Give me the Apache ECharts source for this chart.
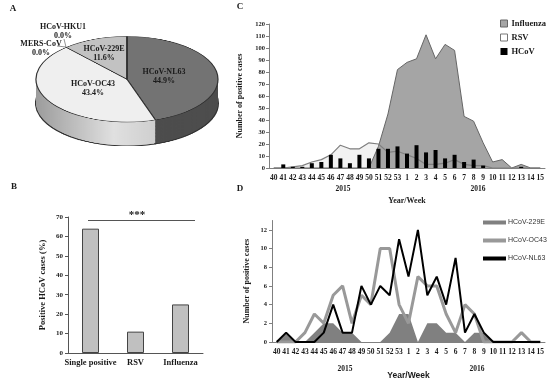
<!DOCTYPE html>
<html><head><meta charset="utf-8">
<script src="https://cdn.jsdelivr.net/npm/echarts@6/dist/echarts.min.js"></script>
<style>
html,body{margin:0;padding:0;background:#fff;}
#wrap{position:relative;width:550px;height:381px;overflow:hidden;background:#fff;}
#pie{position:absolute;left:35px;top:36px;width:184px;height:235px;transform:scaleY(0.47);transform-origin:0 0;z-index:1;}
#main{position:absolute;left:0;top:0;width:550px;height:381px;z-index:2;}
</style></head><body><div id="wrap"><div id="pie"></div><div id="main"></div></div>
<script>
// ---- Data ----
const pieNames = ['HCoV-NL63', 'HCoV-OC43', 'HCoV-229E', 'MERS-CoV', 'HCoV-HKU1'];
const pieValues = [44.9, 43.4, 11.6, 0.0, 0.0];

const coinfCategories = ['Single positive', 'RSV', 'Influenza'];
const coinfValues = [64, 11, 25];

const weeks = ['40','41','42','43','44','45','46','47','48','49','50','51','52','53',
               '1','2','3','4','5','6','7','8','9','10','11','12','13','14','15'];
const influenza = [0,0,0,0,0,0,0,0,0,0,0,18,45,82, 88,91,111,91,103,98,43,39,21,5,7,0,3,0,0];
const rsv       = [0,0,1,2,5,7,11,19,16,16,21,20,13,14, 11,8,3,3,4,7,3,2,2,0,0,0,0,0,0];
const hcov      = [0,3,1,1,4,5,11,8,4,11,8,16,16,18, 12,19,13,15,8,11,5,7,2,0,0,0,1,0,0];

const hcov229E = [0,1,0,0,1,2,2,1,1,0,0,0,1,3, 3,0,2,2,1,1,0,1,1,0,0,0,0,0,0];
const hcovOC43 = [0,0,0,1,3,2,5,6,2,5,4,10,10,4, 2,7,6,6,3,1,4,3,0,0,0,0,1,0,0];
const hcovNL63 = [0,1,0,0,0,1,4,1,1,6,4,6,5,11, 7,12,5,7,4,9,1,3,1,0,0,0,0,0,0];

// ---- Panel A: pseudo-3D pie (flattened) ----
const pieChart = echarts.init(document.getElementById('pie'), null, {width:184, height:235});
const topColors = ['#737373', '#efefef', '#c2c2c2', '#999999', '#999999'];
const oc43Side = {type:'linear', x:0, y:0, x2:1, y2:0, colorStops:[
  {offset:0, color:'#9c9c9c'}, {offset:0.65, color:'#e0e0e0'}, {offset:1, color:'#cfcfcf'}]};
const sideColors = ['#4d4d4d', oc43Side, '#8a8a8a', '#777777', '#777777'];
const R = 91, depth = 51;
const pieSeries = [];
for (let off = depth; off >= 1; off -= 1.5) {
  pieSeries.push({
    type:'pie', radius:R, center:[92, 92 + off], startAngle:90, clockwise:true,
    silent:true, animation:false, label:{show:false}, labelLine:{show:false},
    itemStyle:{borderWidth: off === depth ? 2 : 0, borderColor:'#333'},
    data: pieNames.map((n, i) => ({name:n, value:pieValues[i], itemStyle:{color:sideColors[i]}}))
  });
}
pieSeries.push({
  type:'pie', radius:R, center:[92, 92], startAngle:90, clockwise:true,
  silent:true, animation:false, label:{show:false}, labelLine:{show:false},
  itemStyle:{borderWidth:1.2, borderColor:'#333'},
  data: pieNames.map((n, i) => ({name:n, value:pieValues[i], itemStyle:{color:topColors[i]}}))
});
pieChart.setOption({animation:false, series:pieSeries});

// ---- Main chart (panels B, C, D + labels) ----
const chart = echarts.init(document.getElementById('main'), null, {width:550, height:381});
const serif = 'Liberation Serif';
const sans = 'Liberation Sans';
const pieLabelPos = [[164, 76], [93, 88], [104, 53], [41, 48], [63, 31]];
const txt = (x, y, text, font, opts) => Object.assign({
  type:'text', x:x, y:y, silent:true,
  style:{text:text, font:font, fill:'#1a1a1a', align:'center', verticalAlign:'middle',
         textAlign:'center', textVerticalAlign:'middle', lineHeight:9}
}, opts || {});

const graphic = [
  txt(13, 9, 'A', 'bold 9px ' + serif),
  txt(14, 187, 'B', 'bold 9px ' + serif),
  txt(240, 7, 'C', 'bold 9px ' + serif),
  txt(240, 189, 'D', 'bold 9px ' + serif),
  // pie leader lines
  {type:'line', silent:true, shape:{x1:64, y1:39, x2:66, y2:47}, style:{stroke:'#777', lineWidth:0.8}},
  {type:'line', silent:true, shape:{x1:57, y1:46, x2:66, y2:47}, style:{stroke:'#777', lineWidth:0.8}},
  // significance bar in B
  {type:'line', silent:true, shape:{x1:88, y1:220.5, x2:195, y2:220.5}, style:{stroke:'#555', lineWidth:1}},
  txt(137, 215, '***', 'bold 11px ' + serif),
  // year labels
  txt(343, 189, '2015', 'bold 7.5px ' + serif),
  txt(478, 189, '2016', 'bold 7.5px ' + serif),
  txt(345, 369, '2015', 'bold 7.5px ' + serif),
  txt(477, 369, '2016', 'bold 7.5px ' + serif),
];
pieNames.forEach((n, i) => {
  graphic.push(txt(pieLabelPos[i][0], pieLabelPos[i][1], n + '\n' + pieValues[i].toFixed(1) + '%',
    'bold 8px ' + serif));
});

const axisLbl = (size) => ({fontFamily:serif, fontWeight:'bold', fontSize:size, color:'#1a1a1a'});

chart.setOption({
  animation:false,
  backgroundColor:'transparent',
  textStyle:{fontFamily:serif},
  graphic:graphic,
  legend:[
    {left:500, top:19, orient:'vertical', padding:0, itemGap:5, itemWidth:7, itemHeight:7, selectedMode:false,
     textStyle:{fontFamily:serif, fontWeight:'bold', fontSize:8.5, color:'#1a1a1a', lineHeight:9, padding:[0,0,0,-1]},
     data:[
       {name:'Influenza', icon:'rect', itemStyle:{color:'#a5a5a5', borderColor:'#666', borderWidth:1}},
       {name:'RSV', icon:'rect', itemStyle:{color:'#ffffff', borderColor:'#777', borderWidth:1}},
       {name:'HCoV', icon:'rect', itemStyle:{color:'#000000', borderWidth:0}}
     ]},
    {left:483, top:219, orient:'vertical', padding:0, itemGap:11, itemWidth:23, itemHeight:4, selectedMode:false,
     textStyle:{fontFamily:sans, fontSize:7, color:'#333', lineHeight:7, padding:[0,0,0,-3]},
     data:[
       {name:'HCoV-229E', icon:'rect', itemStyle:{color:'#808080'}},
       {name:'HCoV-OC43', icon:'rect', itemStyle:{color:'#999999'}},
       {name:'HCoV-NL63', icon:'rect', itemStyle:{color:'#000000'}}
     ]}
  ],
  grid:[
    {left:68, right:347, top:217, bottom:28},
    {left:269, right:5, top:24, bottom:213},
    {left:272, right:5, top:220.5, bottom:37}
  ],
  xAxis:[
    {type:'category', gridIndex:0, data:coinfCategories,
     axisLine:{lineStyle:{color:'#555'}}, axisTick:{length:3, lineStyle:{color:'#555'}},
     axisLabel:Object.assign(axisLbl(8.5), {margin:5, interval:0})},
    {type:'category', gridIndex:1, data:weeks, boundaryGap:true,
     name:'Year/Week', nameLocation:'middle', nameGap:29,
     nameTextStyle:{fontFamily:serif, fontWeight:'bold', fontSize:8, color:'#1a1a1a'},
     axisLine:{lineStyle:{color:'#808080'}}, axisTick:{show:false},
     axisLabel:Object.assign(axisLbl(7.5), {margin:6, interval:0})},
    {type:'category', gridIndex:2, data:weeks, boundaryGap:true,
     name:'Year/Week', nameLocation:'middle', nameGap:29,
     nameTextStyle:{fontFamily:sans, fontWeight:'bold', fontSize:8.5, color:'#1a1a1a'},
     axisLine:{lineStyle:{color:'#808080'}}, axisTick:{show:false},
     axisLabel:Object.assign(axisLbl(7.5), {margin:6, interval:0})}
  ],
  yAxis:[
    {type:'value', gridIndex:0, min:0, max:70, interval:10,
     name:'Positive HCoV cases (%)', nameLocation:'middle', nameGap:21, nameRotate:90,
     nameTextStyle:{fontFamily:serif, fontWeight:'bold', fontSize:8.5, color:'#1a1a1a'},
     axisLine:{show:true, lineStyle:{color:'#555'}}, axisTick:{show:true, length:3, lineStyle:{color:'#555'}},
     splitLine:{show:false}, axisLabel:Object.assign(axisLbl(7), {margin:5})},
    {type:'value', gridIndex:1, min:0, max:120, interval:10,
     name:'Number of positive cases', nameLocation:'middle', nameGap:20, nameRotate:90,
     nameTextStyle:{fontFamily:serif, fontWeight:'bold', fontSize:8, color:'#1a1a1a'},
     axisLine:{show:true, lineStyle:{color:'#808080'}}, axisTick:{show:true, length:3, lineStyle:{color:'#808080'}},
     splitLine:{show:false}, axisLabel:Object.assign(axisLbl(6.5), {margin:4})},
    {type:'value', gridIndex:2, min:0, max:13, interval:2,
     name:'Number of positive cases', nameLocation:'middle', nameGap:21, nameRotate:90,
     nameTextStyle:{fontFamily:serif, fontWeight:'bold', fontSize:8, color:'#1a1a1a'},
     axisLine:{show:true, lineStyle:{color:'#808080'}}, axisTick:{show:true, length:3, lineStyle:{color:'#808080'}},
     splitLine:{show:false}, axisLabel:Object.assign(axisLbl(6.5), {margin:5, showMaxLabel:false})}
  ],
  series:[
    {name:'Positive HCoV', type:'bar', xAxisIndex:0, yAxisIndex:0, data:coinfValues, barWidth:17,
     itemStyle:{color:'#c0c0c0', borderColor:'#444', borderWidth:1}},
    // Panel C
    {name:'RSV', type:'line', xAxisIndex:1, yAxisIndex:1, data:rsv, symbol:'none',
     lineStyle:{width:0, color:'#7f7f7f'}, areaStyle:{color:'#f2f2f2', opacity:1}, z:1},
    {name:'Influenza', type:'line', xAxisIndex:1, yAxisIndex:1, data:influenza, symbol:'none',
     lineStyle:{width:1, color:'#666'}, itemStyle:{color:'#a5a5a5'}, areaStyle:{color:'#a5a5a5', opacity:1}, z:2},
    {name:'RSV', type:'line', xAxisIndex:1, yAxisIndex:1, data:rsv, symbol:'none',
     lineStyle:{width:1.2, color:'#7f7f7f'}, z:3},
    {name:'HCoV', type:'bar', xAxisIndex:1, yAxisIndex:1, data:hcov, barWidth:4,
     itemStyle:{color:'#000'}, z:4},
    // Panel D
    {name:'HCoV-229E', type:'line', xAxisIndex:2, yAxisIndex:2, data:hcov229E, symbol:'none',
     lineStyle:{width:0, color:'#808080'}, itemStyle:{color:'#808080'}, areaStyle:{color:'#808080', opacity:1}, z:1},
    {name:'HCoV-OC43', type:'line', xAxisIndex:2, yAxisIndex:2, data:hcovOC43, symbol:'none',
     lineStyle:{width:3, color:'#999999'}, itemStyle:{color:'#999999'}, z:2},
    {name:'HCoV-NL63', type:'line', xAxisIndex:2, yAxisIndex:2, data:hcovNL63, symbol:'none',
     lineStyle:{width:2, color:'#000'}, itemStyle:{color:'#000'}, z:3}
  ]
});
</script></body></html>
